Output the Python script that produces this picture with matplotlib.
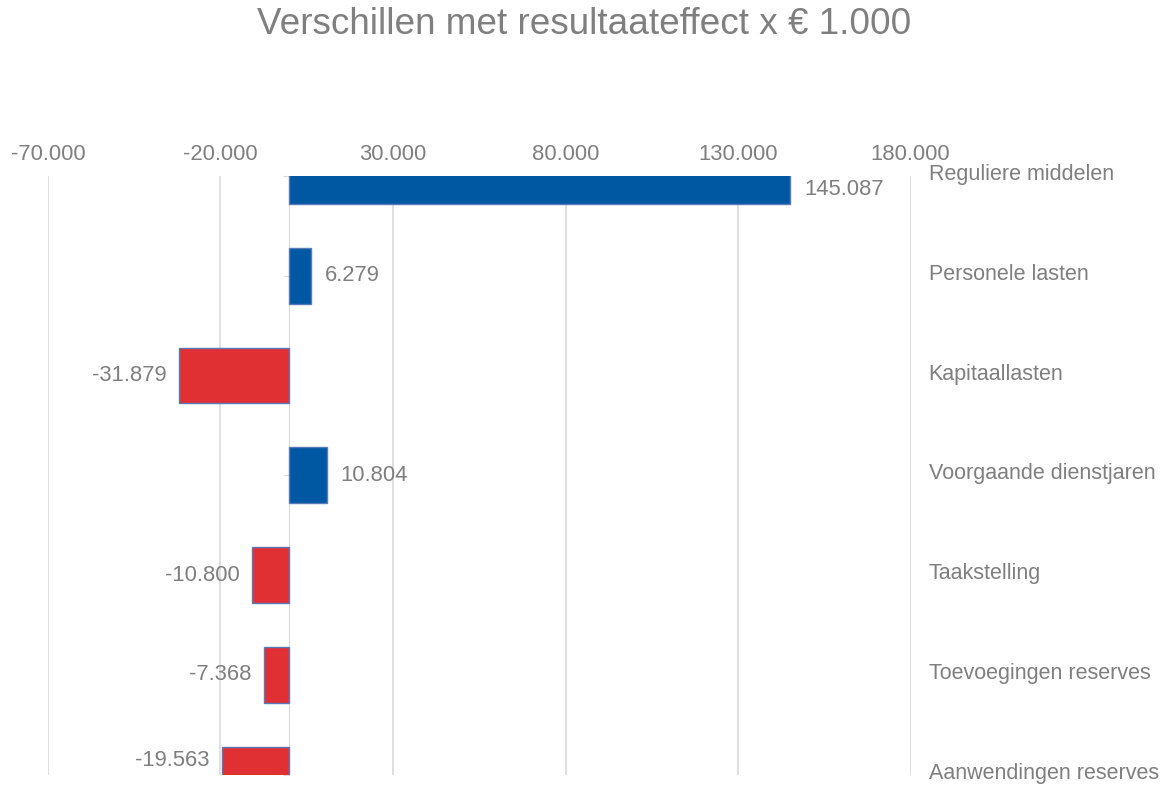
import matplotlib.pyplot as plt
from matplotlib.ticker import FuncFormatter
from matplotlib.transforms import ScaledTranslation

# Data
categories = ['Reguliere middelen', 'Personele lasten', 'Kapitaallasten',
              'Voorgaande dienstjaren', 'Taakstelling', 'Toevoegingen reserves',
              'Aanwendingen reserves']
values = [145087, 6279, -31879, 10804, -10800, -7368, -19563]
x_ticks = [-70000, -20000, 30000, 80000, 130000, 180000]

blue = '#0058a3'
red = '#e03034'
text_grey = '#7f7f7f'
grid_grey = '#d9d9d9'


def nl_format(v, pos=None):
    return f"{v:,.0f}".replace(',', '.')


plt.rcParams['font.family'] = ['Liberation Sans', 'DejaVu Sans']

fig = plt.figure(figsize=(11.69, 7.85), dpi=100)
ax = fig.add_axes([0.041, 0.013, 0.738, 0.763])

pos = list(range(len(categories)))
colors = [blue if v >= 0 else red for v in values]
bar_h = 0.56
ax.barh(pos, values, height=bar_h, color=colors, edgecolor='#5a79b8',
        linewidth=1.0, zorder=3)

ax.set_xlim(x_ticks[0], x_ticks[-1])
ax.set_ylim(len(categories) - 1, 0)

# data labels, centred on the visible part of each bar
ymin, ymax = 0, len(categories) - 1
for p, v in zip(pos, values):
    top = max(p - bar_h / 2, ymin)
    bot = min(p + bar_h / 2, ymax)
    yc = (top + bot) / 2
    if v >= 0:
        ax.annotate(nl_format(v), xy=(v, yc), xytext=(10, 0), textcoords='offset points',
                    ha='left', va='center', fontsize=15.8, color=text_grey, zorder=4)
    else:
        ax.annotate(nl_format(v), xy=(v, yc), xytext=(-9, 0), textcoords='offset points',
                    ha='right', va='center', fontsize=15.8, color=text_grey, zorder=4)

# x axis on top
ax.set_xticks(x_ticks)
ax.xaxis.set_major_formatter(FuncFormatter(nl_format))
ax.xaxis.tick_top()
ax.tick_params(axis='x', length=0, pad=8, labelsize=15.8, labelcolor=text_grey)
ax.grid(axis='x', color=grid_grey, linewidth=1.2, zorder=0)

# axis line at zero with small ticks, category labels on the right
ax.set_yticks(pos)
ax.tick_params(axis='y', left=True, right=False, labelleft=False, labelright=False,
               length=4, color=grid_grey)
label_offset = ScaledTranslation(13 / 72, -3 / 72, fig.dpi_scale_trans)
for p, name in zip(pos, categories):
    ax.text(1.0, p, name, transform=ax.get_yaxis_transform() + label_offset,
            ha='left', va='baseline', fontsize=15.5, color=text_grey, clip_on=False)

ax.spines['left'].set_position(('data', 0))
ax.spines['left'].set_color(grid_grey)
ax.spines['left'].set_zorder(2)
for s in ['top', 'right', 'bottom']:
    ax.spines[s].set_visible(False)

fig.text(0.5, 0.969, 'Verschillen met resultaateffect x \u20ac 1.000', ha='center', va='center',
         fontsize=26.6, color=text_grey)

plt.savefig('out.png', dpi=100)
